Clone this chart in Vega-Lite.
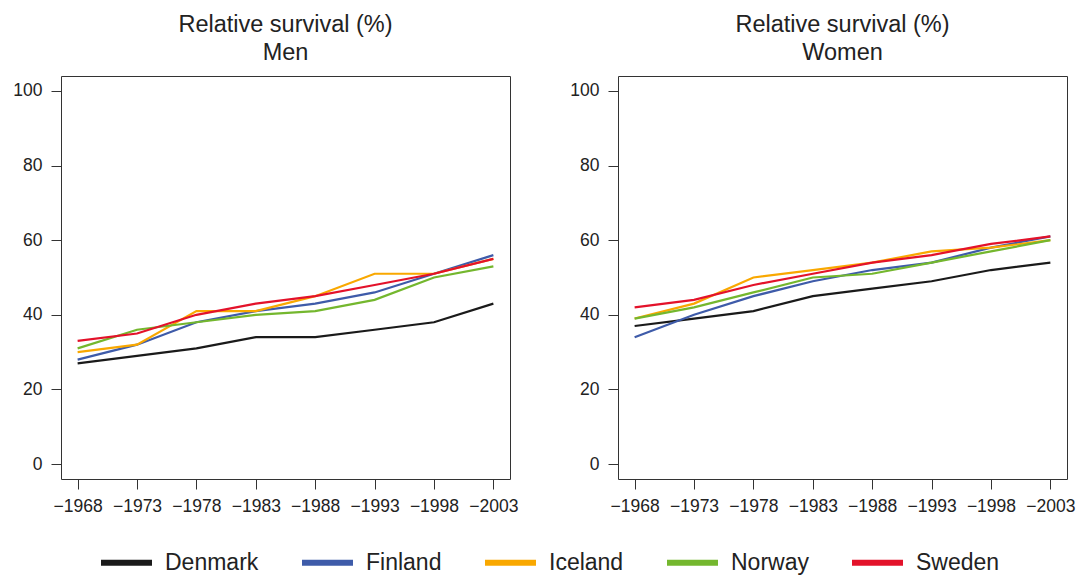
{
  "$schema": "https://vega.github.io/schema/vega-lite/v6.json",
  "padding": {"left": 12, "top": 12, "right": 5, "bottom": 3},
  "background": "white",
  "data": {
    "values": [
      {"sex": "Men", "country": "Denmark", "year": 1968, "survival": 27},
      {"sex": "Men", "country": "Denmark", "year": 1973, "survival": 29},
      {"sex": "Men", "country": "Denmark", "year": 1978, "survival": 31},
      {"sex": "Men", "country": "Denmark", "year": 1983, "survival": 34},
      {"sex": "Men", "country": "Denmark", "year": 1988, "survival": 34},
      {"sex": "Men", "country": "Denmark", "year": 1993, "survival": 36},
      {"sex": "Men", "country": "Denmark", "year": 1998, "survival": 38},
      {"sex": "Men", "country": "Denmark", "year": 2003, "survival": 43},
      {"sex": "Men", "country": "Finland", "year": 1968, "survival": 28},
      {"sex": "Men", "country": "Finland", "year": 1973, "survival": 32},
      {"sex": "Men", "country": "Finland", "year": 1978, "survival": 38},
      {"sex": "Men", "country": "Finland", "year": 1983, "survival": 41},
      {"sex": "Men", "country": "Finland", "year": 1988, "survival": 43},
      {"sex": "Men", "country": "Finland", "year": 1993, "survival": 46},
      {"sex": "Men", "country": "Finland", "year": 1998, "survival": 51},
      {"sex": "Men", "country": "Finland", "year": 2003, "survival": 56},
      {"sex": "Men", "country": "Iceland", "year": 1968, "survival": 30},
      {"sex": "Men", "country": "Iceland", "year": 1973, "survival": 32},
      {"sex": "Men", "country": "Iceland", "year": 1978, "survival": 41},
      {"sex": "Men", "country": "Iceland", "year": 1983, "survival": 41},
      {"sex": "Men", "country": "Iceland", "year": 1988, "survival": 45},
      {"sex": "Men", "country": "Iceland", "year": 1993, "survival": 51},
      {"sex": "Men", "country": "Iceland", "year": 1998, "survival": 51},
      {"sex": "Men", "country": "Iceland", "year": 2003, "survival": 55},
      {"sex": "Men", "country": "Norway", "year": 1968, "survival": 31},
      {"sex": "Men", "country": "Norway", "year": 1973, "survival": 36},
      {"sex": "Men", "country": "Norway", "year": 1978, "survival": 38},
      {"sex": "Men", "country": "Norway", "year": 1983, "survival": 40},
      {"sex": "Men", "country": "Norway", "year": 1988, "survival": 41},
      {"sex": "Men", "country": "Norway", "year": 1993, "survival": 44},
      {"sex": "Men", "country": "Norway", "year": 1998, "survival": 50},
      {"sex": "Men", "country": "Norway", "year": 2003, "survival": 53},
      {"sex": "Men", "country": "Sweden", "year": 1968, "survival": 33},
      {"sex": "Men", "country": "Sweden", "year": 1973, "survival": 35},
      {"sex": "Men", "country": "Sweden", "year": 1978, "survival": 40},
      {"sex": "Men", "country": "Sweden", "year": 1983, "survival": 43},
      {"sex": "Men", "country": "Sweden", "year": 1988, "survival": 45},
      {"sex": "Men", "country": "Sweden", "year": 1993, "survival": 48},
      {"sex": "Men", "country": "Sweden", "year": 1998, "survival": 51},
      {"sex": "Men", "country": "Sweden", "year": 2003, "survival": 55},
      {"sex": "Women", "country": "Denmark", "year": 1968, "survival": 37},
      {"sex": "Women", "country": "Denmark", "year": 1973, "survival": 39},
      {"sex": "Women", "country": "Denmark", "year": 1978, "survival": 41},
      {"sex": "Women", "country": "Denmark", "year": 1983, "survival": 45},
      {"sex": "Women", "country": "Denmark", "year": 1988, "survival": 47},
      {"sex": "Women", "country": "Denmark", "year": 1993, "survival": 49},
      {"sex": "Women", "country": "Denmark", "year": 1998, "survival": 52},
      {"sex": "Women", "country": "Denmark", "year": 2003, "survival": 54},
      {"sex": "Women", "country": "Finland", "year": 1968, "survival": 34},
      {"sex": "Women", "country": "Finland", "year": 1973, "survival": 40},
      {"sex": "Women", "country": "Finland", "year": 1978, "survival": 45},
      {"sex": "Women", "country": "Finland", "year": 1983, "survival": 49},
      {"sex": "Women", "country": "Finland", "year": 1988, "survival": 52},
      {"sex": "Women", "country": "Finland", "year": 1993, "survival": 54},
      {"sex": "Women", "country": "Finland", "year": 1998, "survival": 58},
      {"sex": "Women", "country": "Finland", "year": 2003, "survival": 61},
      {"sex": "Women", "country": "Iceland", "year": 1968, "survival": 39},
      {"sex": "Women", "country": "Iceland", "year": 1973, "survival": 43},
      {"sex": "Women", "country": "Iceland", "year": 1978, "survival": 50},
      {"sex": "Women", "country": "Iceland", "year": 1983, "survival": 52},
      {"sex": "Women", "country": "Iceland", "year": 1988, "survival": 54},
      {"sex": "Women", "country": "Iceland", "year": 1993, "survival": 57},
      {"sex": "Women", "country": "Iceland", "year": 1998, "survival": 58},
      {"sex": "Women", "country": "Iceland", "year": 2003, "survival": 60},
      {"sex": "Women", "country": "Norway", "year": 1968, "survival": 39},
      {"sex": "Women", "country": "Norway", "year": 1973, "survival": 42},
      {"sex": "Women", "country": "Norway", "year": 1978, "survival": 46},
      {"sex": "Women", "country": "Norway", "year": 1983, "survival": 50},
      {"sex": "Women", "country": "Norway", "year": 1988, "survival": 51},
      {"sex": "Women", "country": "Norway", "year": 1993, "survival": 54},
      {"sex": "Women", "country": "Norway", "year": 1998, "survival": 57},
      {"sex": "Women", "country": "Norway", "year": 2003, "survival": 60},
      {"sex": "Women", "country": "Sweden", "year": 1968, "survival": 42},
      {"sex": "Women", "country": "Sweden", "year": 1973, "survival": 44},
      {"sex": "Women", "country": "Sweden", "year": 1978, "survival": 48},
      {"sex": "Women", "country": "Sweden", "year": 1983, "survival": 51},
      {"sex": "Women", "country": "Sweden", "year": 1988, "survival": 54},
      {"sex": "Women", "country": "Sweden", "year": 1993, "survival": 56},
      {"sex": "Women", "country": "Sweden", "year": 1998, "survival": 59},
      {"sex": "Women", "country": "Sweden", "year": 2003, "survival": 61}
    ]
  },
  "spacing": 50,
  "hconcat": [
    {
      "width": 449,
      "height": 403,
      "title": {"text": ["Relative survival (%)", "Men"]},
      "transform": [{"filter": "datum.sex === 'Men'"}],
      "mark": {"type": "line", "strokeWidth": 2.2},
      "encoding": {
        "x": {
          "field": "year", "type": "quantitative",
          "scale": {"domain": [1966.6, 2004.4], "nice": false, "zero": false},
          "axis": {"values": [1968, 1973, 1978, 1983, 1988, 1993, 1998, 2003], "labelExpr": "'\u2212' + datum.value", "title": null}
        },
        "y": {
          "field": "survival", "type": "quantitative",
          "scale": {"domain": [-4, 104], "nice": false, "zero": false},
          "axis": {"values": [0, 20, 40, 60, 80, 100], "title": null}
        },
        "color": {
          "field": "country", "type": "nominal",
          "scale": {"domain": ["Denmark", "Finland", "Iceland", "Norway", "Sweden"], "range": ["#1a1a1a", "#3e5ba9", "#f9a800", "#74b72e", "#e3122a"]},
          "legend": {"orient": "none", "legendX": 37, "legendY": 458, "direction": "horizontal", "title": null}
        }
      }
    },
    {
      "width": 449,
      "height": 403,
      "title": {"text": ["Relative survival (%)", "Women"]},
      "transform": [{"filter": "datum.sex === 'Women'"}],
      "mark": {"type": "line", "strokeWidth": 2.2},
      "encoding": {
        "x": {
          "field": "year", "type": "quantitative",
          "scale": {"domain": [1966.6, 2004.4], "nice": false, "zero": false},
          "axis": {"values": [1968, 1973, 1978, 1983, 1988, 1993, 1998, 2003], "labelExpr": "'\u2212' + datum.value", "title": null}
        },
        "y": {
          "field": "survival", "type": "quantitative",
          "scale": {"domain": [-4, 104], "nice": false, "zero": false},
          "axis": {"values": [0, 20, 40, 60, 80, 100], "title": null}
        },
        "color": {
          "field": "country", "type": "nominal",
          "scale": {"domain": ["Denmark", "Finland", "Iceland", "Norway", "Sweden"], "range": ["#1a1a1a", "#3e5ba9", "#f9a800", "#74b72e", "#e3122a"]},
          "legend": {"orient": "none", "legendX": 37, "legendY": 458, "direction": "horizontal", "title": null}
        }
      }
    }
  ],
  "config": {
    "font": "Liberation Sans",
    "view": {"stroke": "#333333", "strokeWidth": 1},
    "title": {"fontSize": 23.5, "fontWeight": "normal", "color": "#222222", "lineHeight": 28, "offset": 12, "anchor": "middle", "font": "Liberation Sans"},
    "axis": {
      "domain": false, "grid": false,
      "tickColor": "#333333", "tickSize": 10, "tickWidth": 1,
      "labelFontSize": 17.5, "labelColor": "#222222", "labelPadding": 8, "labelFont": "Liberation Sans"
    },
    "axisY": {"labelPadding": 9},
    "legend": {
      "symbolType": "stroke", "symbolStrokeWidth": 6, "symbolSize": 2600,
      "labelFontSize": 23, "labelColor": "#222222", "labelOffset": 10, "columnPadding": 31, "labelFont": "Liberation Sans", "labelLimit": 300
    }
  }
}
